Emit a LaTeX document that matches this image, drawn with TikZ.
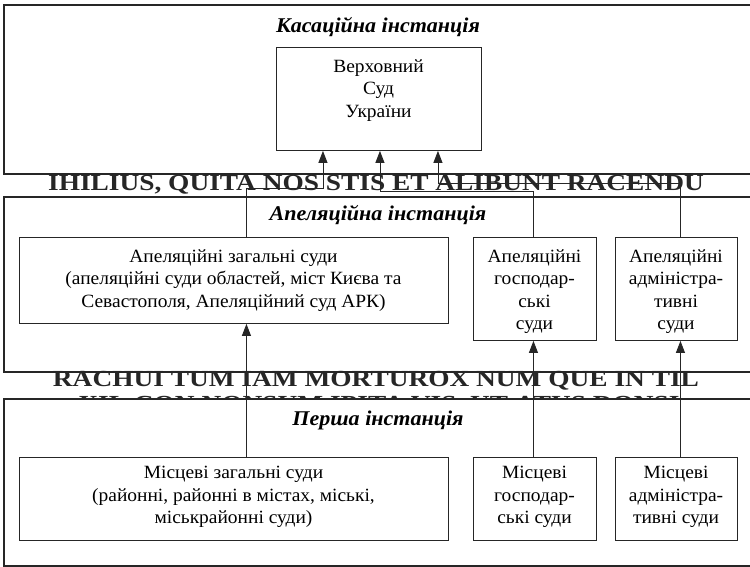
\documentclass[tikz,border=0pt]{standalone}
\usepackage{fontspec}
\setmainfont{Liberation Serif}
\newfontfamily\noisefont[FakeStretch=1.19]{Liberation Serif}
\newfontfamily\ttlfont[FakeStretch=1.05]{Liberation Serif}
\newfontfamily\bodyfont[FakeStretch=1.04]{Liberation Serif}
\usetikzlibrary{arrows.meta}
\begin{document}
\begin{tikzpicture}[x=1pt,y=-1pt,
  frame/.style={draw=black!85, line width=1.3pt, fill=white},
  court/.style={draw=black!85, line width=0.9pt, fill=white, inner sep=0pt, anchor=north west},
  lbl/.style={font=\bodyfont\fontsize{18.7}{22.5}\selectfont, align=center, inner sep=0pt, anchor=north},
  ttl/.style={font=\ttlfont\fontsize{21}{22}\selectfont\bfseries\itshape, inner sep=0pt},
  noise/.style={font=\noisefont\fontsize{23}{23}\selectfont\bfseries, text=black!85, inner sep=0pt},
  arr/.style={-{Triangle[length=12pt,width=9pt]}, line width=0.9pt, draw=black!85}]
\useasboundingbox (0,0) rectangle (750,567);
\clip (0,0) rectangle (750,567);
% instance frames
\draw[frame] (4,5) rectangle (770,174);
\draw[frame] (4,197) rectangle (770,372);
% overlay texts
\node[noise] (n1) at (376,185) {IHILIUS, QUITA NOS STIS ET ALIBUNT RACENDU};
\node[noise] (n2) at (376,381) {RACHUI TUM IAM MORTUROX NUM QUE IN TIL};
\begin{scope}
\clip (0,390) rectangle (750,399);
\node[noise] (n3) at (379,406) {XIL CON NONSUM IPITA VIS, UT ATUS DONSI};
\end{scope}
\draw[frame] (4,399) rectangle (770,566);
% titles
\node[ttl] (t1) at (378,27) {Касаційна інстанція};
\node[ttl] (t2) at (378,215) {Апеляційна інстанція};
\node[ttl] (t3) at (378,420) {Перша інстанція};
% courts
\node[court, minimum width=205pt, minimum height=103pt] (sup) at (276,47) {};
\node[lbl] (supT) at (378.5,59) {Верховний\\Суд\\України};

\node[court, minimum width=429pt, minimum height=86pt] (genA) at (19,237) {};
\node[lbl] (genAT) at (233.5,249) {Апеляційні загальні суди\\(апеляційні суди областей, міст Києва та\\Севастополя, Апеляційний суд АРК)};
\node[court, minimum width=123pt, minimum height=103pt] (hospA) at (473,237) {};
\node[lbl] (hospAT) at (534.5,249) {Апеляційні\\господар-\\ські\\суди};
\node[court, minimum width=122pt, minimum height=103pt] (admA) at (615,237) {};
\node[lbl] (admAT) at (676,249) {Апеляційні\\адміністра-\\тивні\\суди};

\node[court, minimum width=429pt, minimum height=83pt] (genL) at (19,457) {};
\node[lbl] (genLT) at (233.5,466) {Місцеві загальні суди\\(районні, районні в містах, міські,\\міськрайонні суди)};
\node[court, minimum width=123pt, minimum height=83pt] (hospL) at (473,457) {};
\node[lbl] (hospLT) at (534.5,466) {Місцеві\\господар-\\ські суди};
\node[court, minimum width=122pt, minimum height=83pt] (admL) at (615,457) {};
\node[lbl] (admLT) at (676,466) {Місцеві\\адміністра-\\тивні суди};
% connectors to the Supreme Court
\draw[arr] ([xshift=12.5pt]genA.north) -- ++(0,-49) -| ([xshift=-56pt]sup.south);
\draw[arr] ([xshift=-1.5pt]hospA.north) -- ++(0,-46) -| ([xshift=1pt]sup.south);
\draw[arr] ([xshift=4pt]admA.north) -- ++(0,-54) -| ([xshift=59pt]sup.south);
% connectors first -> appellate
\draw[arr] ([xshift=12.5pt]genL.north) -- ([xshift=12.5pt]genA.south);
\draw[arr] ([xshift=-1.5pt]hospL.north) -- ([xshift=-1.5pt]hospA.south);
\draw[arr] ([xshift=4pt]admL.north) -- ([xshift=4pt]admA.south);
\end{tikzpicture}
\end{document}
